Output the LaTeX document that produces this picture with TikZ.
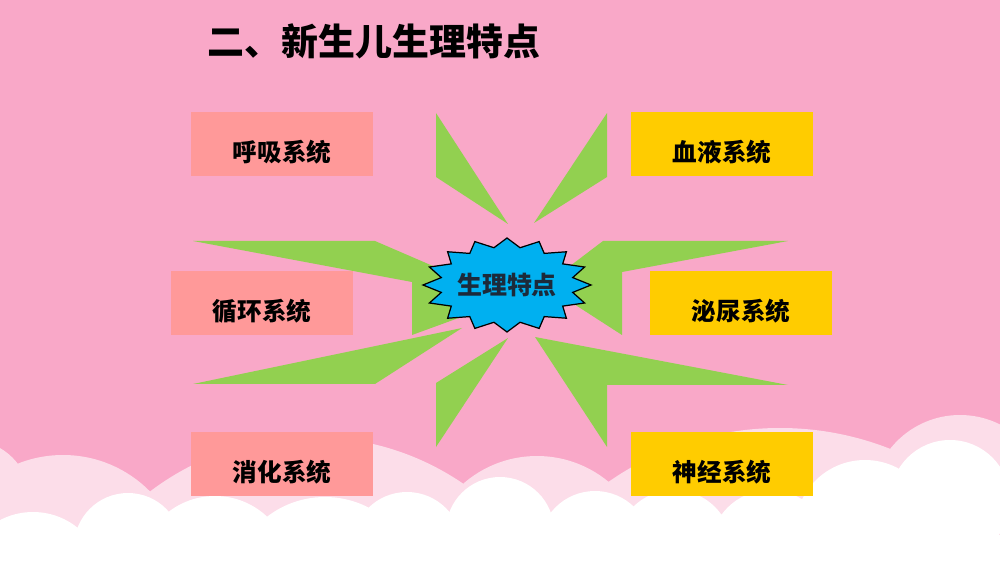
\documentclass[tikz,border=0pt]{standalone}
\usepackage{fontspec}
\newfontfamily\cjk{Noto Sans CJK SC}
\definecolor{bgpink}{HTML}{F9A8C8}
\definecolor{cloudpink}{HTML}{FCDDE9}
\definecolor{boxred}{HTML}{FF9999}
\definecolor{boxgold}{HTML}{FFCC00}
\definecolor{raygreen}{HTML}{92D050}
\definecolor{starblue}{HTML}{00B0F0}
\definecolor{inkblue}{HTML}{1C2A3A}

\begin{document}
\begin{tikzpicture}[x=0.02cm, y=-0.02cm,
    sysbox/.style={minimum width=3.64cm, minimum height=1.28cm, inner sep=0pt,
        font=\cjk\bfseries\fontsize{14pt}{16pt}\selectfont, text height=2.0em, text depth=0pt},
    leftbox/.style={sysbox, fill=boxred},
    rightbox/.style={sysbox, fill=boxgold},
    ray/.style={fill=raygreen}]

    \useasboundingbox (0,0) rectangle (1000,563);
    \clip (0,0) rectangle (1000,563);
    \fill[bgpink] (0,0) rectangle (1000,563);

    % clouds
    \fill[cloudpink] (-30,500) circle (60) (63,577) circle (122) (312,705) circle (268)
        (537,568) circle (112) (780,728) circle (300) (960,504) circle (89);
    \fill[cloudpink] (0,495) rectangle (1000,563);
    \fill[white] (33,583) circle (71) (128,547) circle (54) (215,572) circle (76)
        (325,592) circle (95) (407,547) circle (55) (500,531) circle (54)
        (595,547) circle (56) (674,548) circle (58) (770,550) circle (60)
        (865,530) circle (70) (950,500) circle (60);
    \fill[white] (0,535) rectangle (1000,563);

    % rays
    \fill[ray] (436,113) -- (436,177) -- (508,224) -- cycle;
    \fill[ray] (607,113) -- (607,177) -- (534,223) -- cycle;
    \fill[ray] (193,241) -- (375,241) -- (470,282) -- (475,312) -- (412,335) -- (412,282) -- cycle;
    \fill[ray] (788,241) -- (603,241) -- (545,285) -- (560,295) -- (622,335) -- (622,272) -- cycle;
    \fill[ray] (193,384) -- (375,384) -- (462,328) -- cycle;
    \fill[ray] (436,383) -- (436,447) -- (508,338) -- cycle;
    \fill[ray] (535,337) -- (788,385) -- (607,385) -- (607,447) -- cycle;

    % boxes
    \node[leftbox] (resp) at (282,144) {呼吸系统};
    \node[leftbox] (circ) at (262,303) {循环系统};
    \node[leftbox] (dige) at (282,464) {消化系统};
    \node[rightbox] (blood) at (722,144) {血液系统};
    \node[rightbox] (urin) at (741,303) {泌尿系统};
    \node[rightbox] (nerv) at (722,464) {神经系统};

    % star
    \begin{scope}[shift={(507,285)}]
        \draw[fill=starblue, line width=0.7pt, line join=miter] (90:84 and 47)
            \foreach \k in {0,...,15} { -- ({101.25+22.5*\k}:67 and 38) -- ({112.5+22.5*\k}:84 and 47) } -- cycle;
    \end{scope}
    \node[text=inkblue, font=\cjk\bfseries\fontsize{14.2pt}{16pt}\selectfont] (core) at (507,285) {生理特点};

    % title
    \node[font=\cjk\bfseries\fontsize{21pt}{24pt}\selectfont] (title) at (374,41) {二、新生儿生理特点};

\end{tikzpicture}
\end{document}
